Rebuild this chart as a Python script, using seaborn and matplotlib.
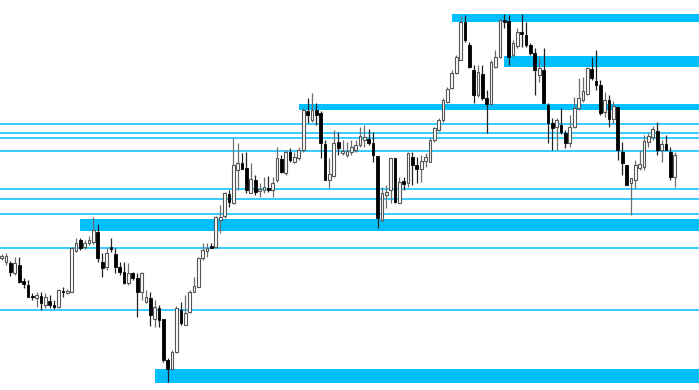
import matplotlib
matplotlib.use("Agg")
import matplotlib.pyplot as plt
import seaborn as sns
import numpy as np
import pandas as pd

# ---- data (price units) ----
opens = [142, 138, 137, 127, 135, 119, 115, 104, 102, 104, 95, 99, 95, 93, 109, 107, 108, 149, 160, 153,
         157, 158, 168, 138, 133, 153, 146, 133, 128, 117, 127, 122, 108, 98, 102, 81, 92, 81, 40, 31,
         48, 90, 75, 88, 108, 113, 142, 149, 154, 153, 180, 184, 206, 197, 230, 237, 232, 207, 220, 209,
         210, 212, 210, 220, 241, 227, 248, 238, 242, 250, 289, 280, 290, 287, 256, 220, 224, 258, 247, 245,
         248, 250, 255, 260, 261, 257, 244, 180, 205, 210, 242, 197, 219, 217, 243, 235, 231, 239, 238, 260,
         270, 280, 298, 312, 327, 340, 378, 355, 330, 305, 326, 302, 296, 333, 343, 380, 379, 345, 354, 368,
         365, 355, 347, 325, 330, 295, 277, 273, 275, 267, 257, 273, 292, 300, 306, 331, 319, 315, 288, 300,
         281, 293, 248, 235, 217, 220, 232, 233, 258, 263, 269, 250, 256, 248, 223]
closes = [144, 144, 128, 137, 118, 116, 103, 103, 105, 97, 103, 95, 93, 110, 108, 109, 152, 157, 152, 157,
          160, 170, 142, 132, 147, 151, 133, 128, 117, 127, 122, 108, 127, 103, 85, 93, 80, 40, 31, 48,
          92, 77, 87, 108, 114, 142, 150, 152, 152, 183, 183, 207, 198, 235, 237, 231, 210, 221, 208, 211,
          213, 210, 217, 242, 228, 248, 240, 243, 250, 290, 285, 290, 285, 257, 220, 226, 257, 252, 249, 249,
          253, 255, 264, 263, 257, 245, 182, 207, 208, 242, 198, 218, 216, 247, 235, 231, 239, 243, 260, 272,
          280, 300, 311, 327, 343, 378, 360, 333, 305, 328, 302, 296, 338, 343, 380, 378, 343, 357, 368, 366,
          355, 347, 330, 332, 297, 277, 272, 280, 268, 257, 273, 292, 302, 309, 332, 322, 315, 287, 300, 281,
          294, 250, 237, 215, 222, 235, 236, 259, 264, 271, 250, 256, 250, 223, 245]
highs = [146, 147, 139, 143, 143, 122, 120, 107, 108, 108, 107, 105, 100, 111, 113, 111, 153, 162, 162, 160,
         164, 183, 176, 147, 152, 162, 152, 138, 138, 137, 128, 127, 128, 110, 108, 100, 95, 81, 42, 50,
         94, 98, 105, 110, 123, 143, 157, 157, 157, 184, 195, 208, 210, 262, 257, 247, 248, 237, 225, 217,
         223, 224, 223, 253, 245, 250, 252, 248, 253, 292, 302, 307, 297, 289, 260, 242, 270, 268, 260, 258,
         260, 260, 273, 275, 271, 268, 244, 213, 215, 242, 242, 223, 223, 248, 248, 243, 245, 247, 262, 273,
         282, 302, 313, 330, 345, 384, 385, 358, 335, 335, 335, 310, 340, 350, 381, 386, 385, 360, 372, 386,
         378, 357, 352, 343, 352, 297, 282, 282, 292, 270, 285, 303, 322, 323, 333, 343, 350, 320, 308, 305,
         299, 293, 258, 235, 222, 240, 250, 265, 267, 274, 278, 260, 265, 253, 248]
lows = [140, 135, 124, 125, 117, 112, 103, 100, 93, 90, 92, 92, 91, 92, 103, 106, 108, 148, 150, 151,
        155, 156, 138, 123, 130, 148, 127, 125, 116, 115, 120, 83, 100, 97, 74, 73, 73, 38, 18, 30,
        47, 75, 75, 87, 108, 113, 140, 143, 152, 152, 167, 182, 193, 196, 210, 231, 207, 207, 205, 203,
        207, 208, 203, 218, 227, 225, 238, 237, 240, 248, 277, 278, 275, 242, 220, 212, 223, 245, 245, 243,
        245, 248, 253, 253, 255, 238, 172, 178, 192, 197, 197, 197, 210, 213, 215, 217, 218, 233, 238, 258,
        269, 278, 297, 311, 326, 340, 358, 332, 297, 303, 300, 267, 296, 332, 342, 372, 335, 343, 352, 353,
        353, 345, 305, 318, 297, 257, 250, 250, 266, 252, 253, 272, 290, 298, 305, 320, 310, 285, 283, 273,
        277, 240, 225, 215, 185, 212, 230, 230, 253, 260, 245, 238, 250, 220, 213]

band_low = [378, 333.5, 290, 169, 17]
band_high = [386.5, 344, 296, 181, 31]
band_start = [103, 115, 68, 18, 35]
level_lines = [276, 267.3, 261.7, 249.3, 211, 201.3, 185.7, 151.7, 90]

df = pd.DataFrame({"open": opens, "high": highs, "low": lows, "close": closes})
df["idx"] = np.arange(len(df))
df["up"] = df["close"] >= df["open"]

sns.set_theme(style="white")
fig = plt.figure(figsize=(6.99, 3.90), dpi=100)
ax = fig.add_axes([0, 0, 1, 1])
ax.set_axis_off()

xmin, xmax = -0.389, 159.57
ax.set_xlim(xmin, xmax)
ax.set_ylim(10, 400)

cyan = "#00BFFF"
for lo, hi, st in zip(band_low, band_high, band_start):
    ax.fill_between([st, xmax], lo, hi, color=cyan, linewidth=0, zorder=1)
for lv in level_lines:
    ax.axhline(lv, color=cyan, linewidth=1.1, zorder=2)

up = df[df["up"]]
dn = df[~df["up"]]
# wicks
ax.vlines(up["idx"], up["low"], up["high"], color="#6e6e6e", linewidth=0.9, zorder=3)
ax.vlines(dn["idx"], dn["low"], dn["high"], color="#222222", linewidth=0.9, zorder=3)
# bodies
w = 0.62
ax.bar(up["idx"], (up["close"] - up["open"]).clip(lower=0.8), bottom=up["open"], width=w,
       color="white", edgecolor="#555555", linewidth=0.8, zorder=4)
ax.bar(dn["idx"], (dn["open"] - dn["close"]).clip(lower=0.8), bottom=dn["close"], width=w,
       color="black", edgecolor="black", linewidth=0.6, zorder=4)

fig.savefig("out.png", dpi=100)
